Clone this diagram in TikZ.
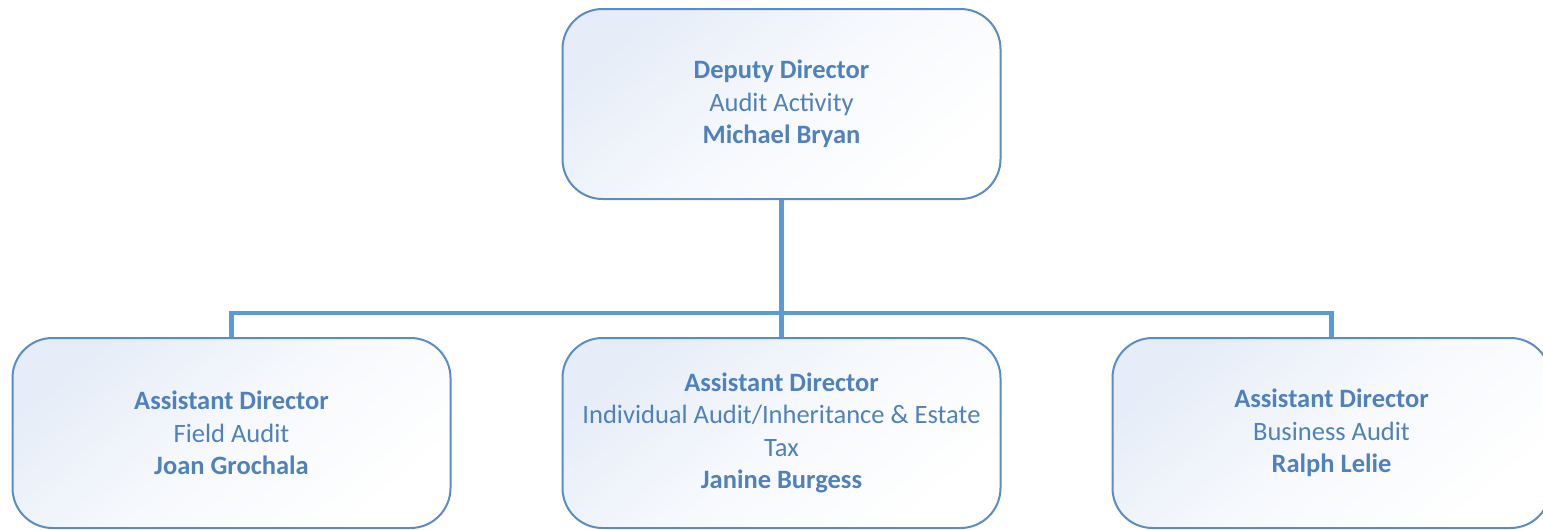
\documentclass[tikz,border=0pt]{standalone}
\usepackage{fontspec}
\setmainfont{Carlito}
\usepackage{tikz}
\usetikzlibrary{calc}

\definecolor{boxline}{HTML}{5B8CC6}
\definecolor{boxtext}{HTML}{4F81BD}
\definecolor{boxtint}{HTML}{E6EDF8}
\definecolor{linkline}{HTML}{5B9BD5}

\tikzset{
    post/.style = {draw = boxline, line width = 2pt, rounded corners = 40pt,
                   minimum width = 438pt, minimum height = 190pt, inner sep = 0pt,
                   top color = boxtint, bottom color = white, middle color = boxtint!35!white,
                   shading angle = 40,
                   text = boxtext, align = center,
                   font = \fontsize{26.5}{32.5}\selectfont},
    link/.style = {draw = linkline, line width = 4.2pt}
}

\begin{document}
\begin{tikzpicture}[x = 1pt, y = 1pt]
        \useasboundingbox (0,0) rectangle (1543,-530);
        \begin{scope}
        \clip (0,0) rectangle (1543,-530);

        \node (deputy) [post] at (781.5,-104)
            {\textbf{Deputy Director}\\Audit Activity\\\textbf{Michael Bryan}};
        \node (middle) [post, below of = deputy, node distance = 329pt]
            {\textbf{Assistant Director}\\Individual Audit/Inheritance \& Estate\\Tax\\\textbf{Janine Burgess}};
        \node (field) [post, left of = middle, node distance = 550pt]
            {\textbf{Assistant Director}\\Field Audit\\\textbf{Joan Grochala}};
        \node (business) [post, right of = middle, node distance = 550pt]
            {\textbf{Assistant Director}\\Business Audit\\\textbf{Ralph Lelie}};

        % one bus line above the three assistants
        \coordinate (bus) at ($(middle.north) + (0,24)$);
        \draw[link] (deputy.south) -- (bus);
        \draw[link] (field.north) |- (bus) -| (business.north);
        \draw[link] (bus) -- (middle.north);
        \end{scope}

    \end{tikzpicture}
\end{document}
